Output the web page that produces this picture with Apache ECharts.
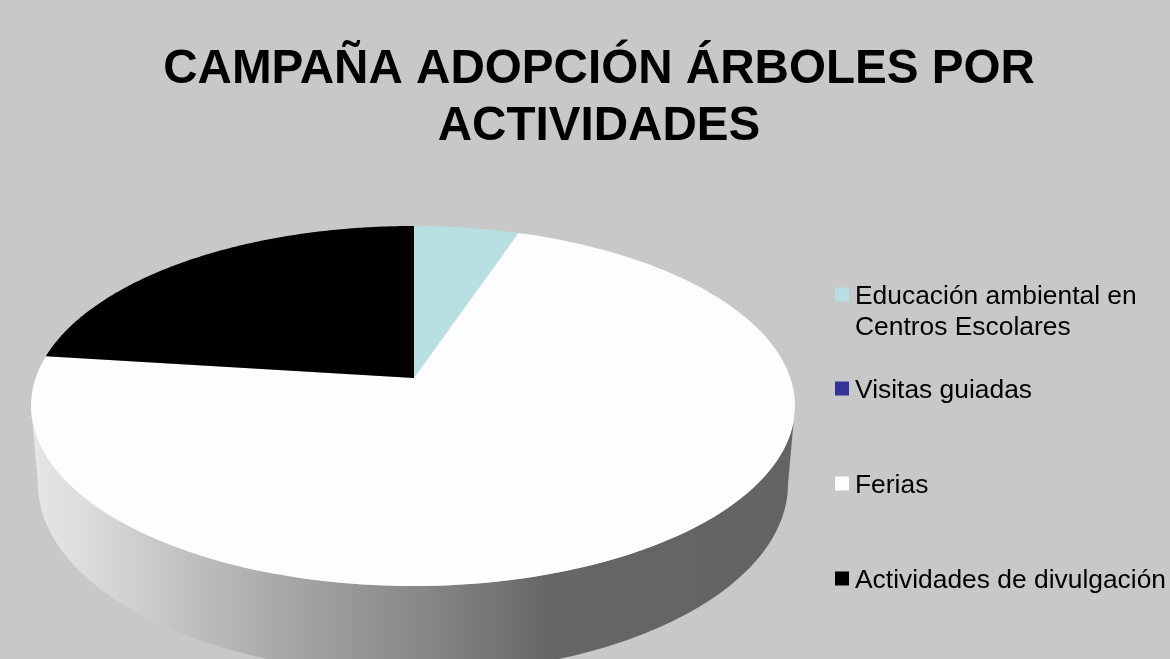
<!DOCTYPE html>
<html>
<head>
<meta charset="utf-8">
<title>Campaña adopción árboles</title>
<style>
  html, body { margin: 0; padding: 0; background: #c8c8c8; }
  #chart { width: 1170px; height: 659px; }
</style>
<script src="https://cdn.jsdelivr.net/npm/echarts@6/dist/echarts.min.js"></script>
</head>
<body>
<div id="chart"></div>
<script>
const titleText = 'CAMPAÑA ADOPCIÓN ÁRBOLES POR\nACTIVIDADES'
const categories = ['Educación ambiental en\nCentros Escolares', 'Visitas guiadas', 'Ferias', 'Actividades de divulgación']
const values = [5.2, 0, 71.8, 23]
const colors = ['#b8dfe1', '#333399', '#fdfdfd', '#000000']
const legendTops = [284, 378, 473, 568]

// la tarta 3D: elipse superior, elipse inferior y vértice desplazado por la perspectiva
const top3d = { cx: 413, cy: 406, rx: 382, ry: 180 }
const bottom3d = { cx: 413, cy: 484, rx: 375, ry: 190 }
const apex = { x: 414, y: 378 }
const tilt = 0.47
const arcSteps = 160

const total = values.reduce((a, b) => a + b, 0)

// punto del borde de la elipse para un ángulo medido desde arriba, en sentido horario
function rimPoint (angle) {
  const dx = Math.sin(angle)
  const dy = -Math.cos(angle) * tilt
  const ox = (apex.x - top3d.cx) / top3d.rx
  const oy = (apex.y - top3d.cy) / top3d.ry
  const ux = dx / top3d.rx
  const uy = dy / top3d.ry
  const a = ux * ux + uy * uy
  const b = 2 * (ox * ux + oy * uy)
  const c = ox * ox + oy * oy - 1
  const t = (-b + Math.sqrt(b * b - 4 * a * c)) / (2 * a)
  return [apex.x + dx * t, apex.y + dy * t]
}

function ellipseArc (e, from, to) {
  const pts = []
  for (let i = 0; i <= arcSteps; i++) {
    const a = from + (to - from) * i / arcSteps
    pts.push([e.cx + e.rx * Math.cos(a), e.cy + e.ry * Math.sin(a)])
  }
  return pts
}

function sliceItem (index) {
  return function (params, api) {
    const value = api.value(0)
    if (!value) {
      return null
    }
    const before = values.slice(0, index).reduce((a, b) => a + b, 0)
    const start = before / total * Math.PI * 2
    const end = (before + value) / total * Math.PI * 2
    const points = [[apex.x, apex.y]]
    for (let i = 0; i <= arcSteps; i++) {
      points.push(rimPoint(start + (end - start) * i / arcSteps))
    }
    return { type: 'polygon', shape: { points }, style: { fill: colors[index] } }
  }
}

const rimGradient = new echarts.graphic.LinearGradient(31, 0, 795, 0, [
  { offset: 0, color: '#e6e6e6' },
  { offset: 0.06, color: '#dedede' },
  { offset: 0.3, color: '#adadad' },
  { offset: 0.52, color: '#868686' },
  { offset: 0.68, color: '#666666' },
  { offset: 1, color: '#636363' }
], true)

const rimSeries = {
  name: 'rim',
  type: 'custom',
  coordinateSystem: 'none',
  silent: true,
  data: [1],
  renderItem () {
    const points = ellipseArc(top3d, 0, Math.PI).concat(ellipseArc(bottom3d, Math.PI, 0))
    return { type: 'polygon', shape: { points }, style: { fill: rimGradient } }
  }
}

const sliceSeries = categories.map((name, i) => ({
  name,
  type: 'custom',
  coordinateSystem: 'none',
  itemStyle: { color: colors[i] },
  data: [values[i]],
  renderItem: sliceItem(i)
}))

const legends = categories.map((name, i) => ({
  data: [name],
  left: 835,
  top: legendTops[i],
  padding: 0,
  icon: 'rect',
  itemWidth: 14,
  itemHeight: 14,
  itemGap: 0,
  selectedMode: false,
  formatter: n => '{t|' + n.split('\n')[0] + '}',
  textStyle: {
    rich: {
      t: {
        color: '#000',
        fontFamily: 'Liberation Sans',
        fontSize: 26.4,
        height: 30,
        padding: [5, 0, 0, 1]
      }
    }
  }
}))

const chart = echarts.init(document.getElementById('chart'))
chart.setOption({
  animation: false,
  backgroundColor: '#c8c8c8',
  title: {
    text: titleText,
    left: 599,
    top: 41,
    textAlign: 'center',
    padding: 0,
    textStyle: {
      color: '#000',
      fontFamily: 'Liberation Sans',
      fontWeight: 'bold',
      fontSize: 47.6,
      lineHeight: 57
    }
  },
  legend: legends,
  graphic: [{
    type: 'text',
    left: 855,
    top: 315,
    style: {
      text: categories[0].split('\n')[1],
      fill: '#000',
      font: '26.4px "Liberation Sans"'
    }
  }],
  series: [rimSeries].concat(sliceSeries)
})
</script>
</body>
</html>
